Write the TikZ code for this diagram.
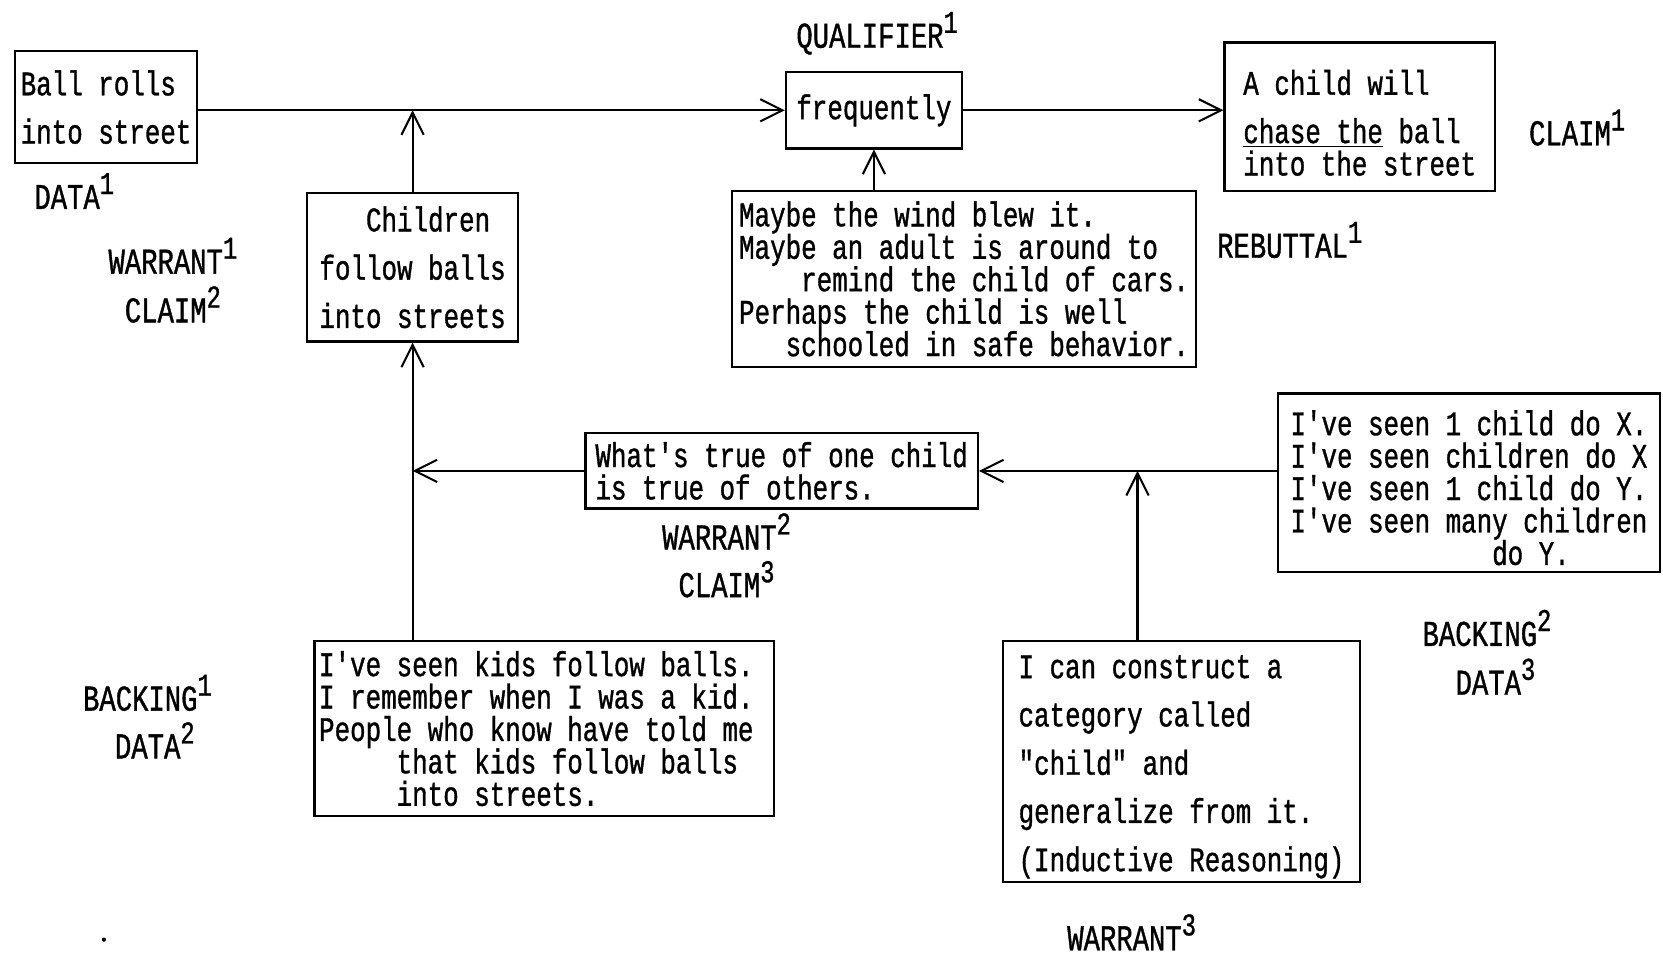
\documentclass[tikz,border=0pt]{standalone}
\usepackage{fontspec}
\newfontfamily\typ{Liberation Mono}[FakeStretch=0.75, FakeBold=1]
\usepackage{tikz}
\usetikzlibrary{arrows.meta,positioning}
\newcommand{\lev}[1]{\raisebox{8pt}{\fontsize{17}{17}\typ #1}}
\tikzset{
	%Define standard arrow tip
	>={Straight Barb[length=4.2mm,width=4.2mm]},
	%Define style for boxes
	boks/.style={
		rectangle,
		draw=black, line width=1.2pt,
		align=left,
		inner sep=2pt,
		font=\fontsize{18.5}{17.4}\typ},
	% wider line spacing
	vidt/.style={font=\fontsize{18.5}{25.9}\typ},
	% Define style for labels
	merke/.style={
		anchor=base,
		inner sep=1pt,
		font=\fontsize{19.5}{19.5}\typ},
	% Define arrow style
	pil/.style={
		->,
		line width=1.1pt,}
}

\begin{document}
\begin{tikzpicture}[x=0.02cm, y=-0.02cm]
	\useasboundingbox (0,0) rectangle (1568,900);

	\node[boks, vidt, minimum width=3.44cm, minimum height=2.12cm] (data1) at (100,101) {Ball rolls\\into street};
	\node[boks, align=center, minimum width=3.32cm, minimum height=1.44cm] (qualifier1) at (824,104) {frequently};
	\node[boks, minimum width=5.1cm, minimum height=2.8cm] (claim1) at (1282,110) {\rule{0pt}{20pt}A child will\\[0.3cm]\underline{chase the} ball\\into the street};
	\node[boks, vidt, minimum width=3.98cm, minimum height=2.8cm] (warrant1) at (389,252) {\phantom{xxx}Children\\follow balls\\into streets};
	\node[boks, minimum width=8.76cm, minimum height=3.32cm] (rebuttal1) at (909,263) {Maybe the wind blew it.\\Maybe an adult is around to\\\phantom{xxxx}remind the child of cars.\\Perhaps the child is well\\\phantom{xxx}schooled in safe behavior.};
	\node[boks, minimum width=7.4cm, minimum height=1.42cm] (warrant2) at (737,444) {What's true of one child\\is true of others.};
	\node[boks, minimum width=7.2cm, minimum height=3.36cm] (backing2) at (1385,455) {\rule{0pt}{19pt}I've seen 1 child do X.\\I've seen children do X\\I've seen 1 child do Y.\\I've seen many children\\\phantom{xxxxxxxxxxxxx}do Y.};
	\node[boks, minimum width=8.66cm, minimum height=3.3cm] (backing1) at (513,687) {I've seen kids follow balls.\phantom{x}\\I remember when I was a kid.\\People who know have told me\\\phantom{xxxxx}that kids follow balls\\\phantom{xxxxx}into streets.};
	\node[boks, vidt, minimum width=6.74cm, minimum height=4.48cm] (warrant3) at (1114,718) {\rule{0pt}{18pt}I can construct a\\category called\\"child" and\\generalize from it.\\(Inductive Reasoning)};

	% labels
	\node[merke] (data1lbl) at (70,197) {DATA\lev{1}};
	\node[merke] (qualifier1lbl) at (827,45) {QUALIFIER\lev{1}};
	\node[merke] (claim1lbl) at (1487,137) {CLAIM\lev{1}};
	\node[merke] (warrant1lbl) at (163,258) {WARRANT\lev{1}};
	\node[merke] (claim2lbl) at ([yshift=-0.92cm]warrant1lbl.base) {CLAIM\lev{2}};
	\node[merke] (rebuttal1lbl) at (1216,243) {REBUTTAL\lev{1}};
	\node[merke] (warrant2lbl) at (685,518) {WARRANT\lev{2}};
	\node[merke] (claim3lbl) at ([yshift=-0.9cm]warrant2lbl.base) {CLAIM\lev{3}};
	\node[merke] (backing2lbl) at (1402,609) {BACKING\lev{2}};
	\node[merke] (data3lbl) at ([xshift=0.16cm, yshift=-0.92cm]backing2lbl.base) {DATA\lev{3}};
	\node[merke] (backing1lbl) at (139,670) {BACKING\lev{1}};
	\node[merke] (data2lbl) at ([xshift=0.14cm, yshift=-0.9cm]backing1lbl.base) {DATA\lev{2}};
	\node[merke] (warrant3lbl) at (1067,896) {WARRANT\lev{3}};

	% arrows
	\draw[pil] (data1.east |- qualifier1.west) -- (qualifier1.west);
	\draw[pil] (qualifier1.east) -- (qualifier1.east -| claim1.west);
	\draw[pil] (warrant1.north) -- (warrant1.north |- qualifier1.west);
	\draw[pil] (qualifier1.south |- rebuttal1.north) -- (qualifier1.south);
	\draw[pil] (warrant1.south |- backing1.north) -- (warrant1.south);
	\draw[pil] (warrant2.west) -- (warrant2.west -| warrant1.south);
	\draw[pil] (backing2.west |- warrant2.east) -- (warrant2.east);
	\coordinate[left=0.83cm of warrant3.north] (w3top);
	\draw[pil] (w3top) -- (w3top |- warrant2.east);

	\fill (98,886) circle (0.04cm);
\end{tikzpicture}
\end{document}
